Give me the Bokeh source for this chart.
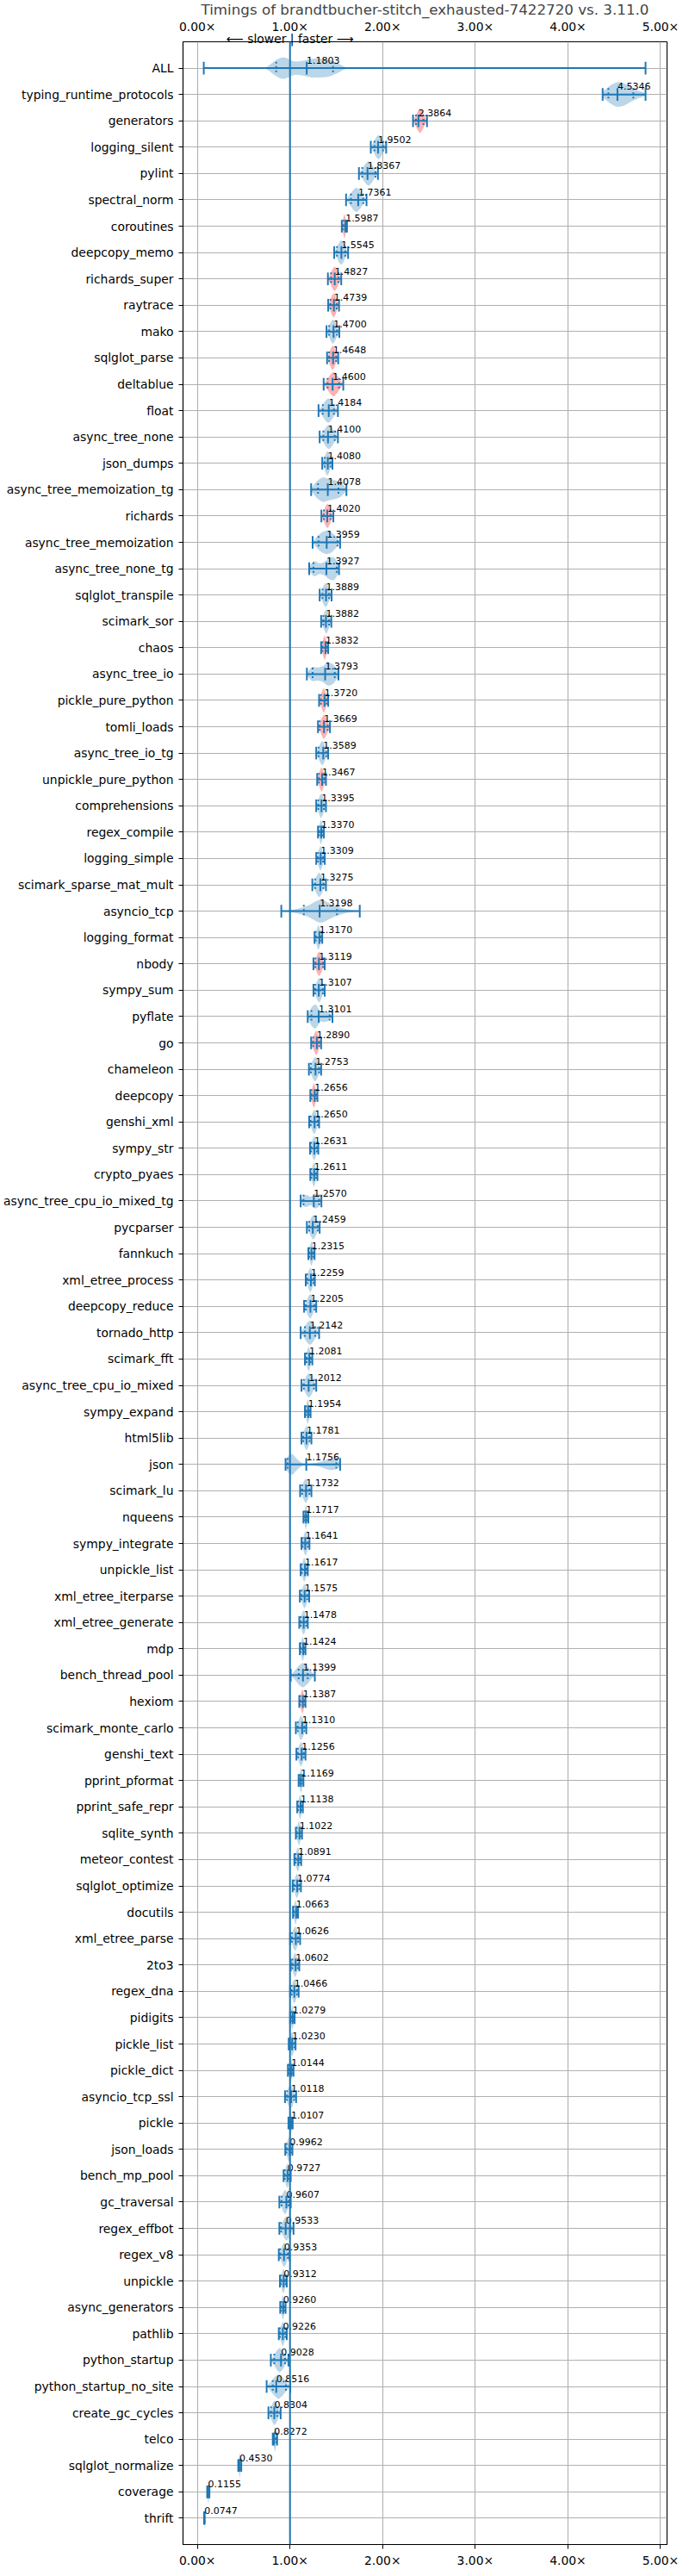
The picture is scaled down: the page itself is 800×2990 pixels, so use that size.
import numpy as np
from bokeh.core.properties import value
from bokeh.embed import file_html
from bokeh.models import ColumnDataSource, FixedTicker, LinearAxis, Range1d, Span
from bokeh.plotting import figure
from bokeh.resources import INLINE

title = "Timings of brandtbucher-stitch_exhausted-7422720 vs. 3.11.0"
direction_note = "⟵ slower | faster ⟶"

names = [
    "ALL", "typing_runtime_protocols", "generators", "logging_silent", "pylint",
    "spectral_norm", "coroutines", "deepcopy_memo", "richards_super", "raytrace",
    "mako", "sqlglot_parse", "deltablue", "float", "async_tree_none",
    "json_dumps", "async_tree_memoization_tg", "richards", "async_tree_memoization",
    "async_tree_none_tg", "sqlglot_transpile", "scimark_sor", "chaos",
    "async_tree_io", "pickle_pure_python", "tomli_loads", "async_tree_io_tg",
    "unpickle_pure_python", "comprehensions", "regex_compile", "logging_simple",
    "scimark_sparse_mat_mult", "asyncio_tcp", "logging_format", "nbody",
    "sympy_sum", "pyflate", "go", "chameleon", "deepcopy", "genshi_xml",
    "sympy_str", "crypto_pyaes", "async_tree_cpu_io_mixed_tg", "pycparser",
    "fannkuch", "xml_etree_process", "deepcopy_reduce", "tornado_http",
    "scimark_fft", "async_tree_cpu_io_mixed", "sympy_expand", "html5lib", "json",
    "scimark_lu", "nqueens", "sympy_integrate", "unpickle_list",
    "xml_etree_iterparse", "xml_etree_generate", "mdp", "bench_thread_pool",
    "hexiom", "scimark_monte_carlo", "genshi_text", "pprint_pformat",
    "pprint_safe_repr", "sqlite_synth", "meteor_contest", "sqlglot_optimize",
    "docutils", "xml_etree_parse", "2to3", "regex_dna", "pidigits", "pickle_list",
    "pickle_dict", "asyncio_tcp_ssl", "pickle", "json_loads", "bench_mp_pool",
    "gc_traversal", "regex_effbot", "regex_v8", "unpickle", "async_generators",
    "pathlib", "python_startup", "python_startup_no_site", "create_gc_cycles",
    "telco", "sqlglot_normalize", "coverage", "thrift",
]

medians = [
    1.1803, 4.5346, 2.3864, 1.9502, 1.8367, 1.7361, 1.5987, 1.5545, 1.4827, 1.4739,
    1.4700, 1.4648, 1.4600, 1.4184, 1.4100, 1.4080, 1.4078, 1.4020, 1.3959, 1.3927,
    1.3889, 1.3882, 1.3832, 1.3793, 1.3720, 1.3669, 1.3589, 1.3467, 1.3395, 1.3370,
    1.3309, 1.3275, 1.3198, 1.3170, 1.3119, 1.3107, 1.3101, 1.2890, 1.2753, 1.2656,
    1.2650, 1.2631, 1.2611, 1.2570, 1.2459, 1.2315, 1.2259, 1.2205, 1.2142, 1.2081,
    1.2012, 1.1954, 1.1781, 1.1756, 1.1732, 1.1717, 1.1641, 1.1617, 1.1575, 1.1478,
    1.1424, 1.1399, 1.1387, 1.1310, 1.1256, 1.1169, 1.1138, 1.1022, 1.0891, 1.0774,
    1.0663, 1.0626, 1.0602, 1.0466, 1.0279, 1.0230, 1.0144, 1.0118, 1.0107, 0.9962,
    0.9727, 0.9607, 0.9533, 0.9353, 0.9312, 0.9260, 0.9226, 0.9028, 0.8516, 0.8304,
    0.8272, 0.4530, 0.1155, 0.0747,
]

mins = [
    0.069, 4.375, 2.328, 1.872, 1.744, 1.605, 1.559, 1.477, 1.409, 1.412,
    1.394, 1.400, 1.363, 1.308, 1.320, 1.348, 1.228, 1.339, 1.244, 1.207,
    1.320, 1.336, 1.336, 1.182, 1.314, 1.302, 1.283, 1.293, 1.283, 1.302,
    1.283, 1.241, 0.906, 1.265, 1.253, 1.253, 1.191, 1.228, 1.204, 1.219,
    1.207, 1.216, 1.219, 1.115, 1.182, 1.198, 1.170, 1.152, 1.115, 1.161,
    1.124, 1.161, 1.124, 0.952, 1.109, 1.145, 1.124, 1.115, 1.106, 1.100,
    1.106, 1.008, 1.100, 1.063, 1.069, 1.093, 1.078, 1.063, 1.047, 1.029,
    1.032, 1.001, 1.008, 1.001, 1.001, 0.986, 0.977, 0.946, 0.983, 0.949,
    0.931, 0.885, 0.885, 0.879, 0.891, 0.894, 0.879, 0.793, 0.748, 0.767,
    0.814, 0.441, 0.106, 0.072,
]

maxs = [
    4.838, 4.838, 2.479, 2.038, 1.949, 1.826, 1.615, 1.627, 1.553, 1.529,
    1.532, 1.520, 1.575, 1.517, 1.517, 1.458, 1.609, 1.468, 1.541, 1.529,
    1.449, 1.446, 1.412, 1.523, 1.412, 1.431, 1.412, 1.388, 1.388, 1.366,
    1.375, 1.388, 1.753, 1.348, 1.375, 1.375, 1.458, 1.336, 1.336, 1.296,
    1.314, 1.305, 1.296, 1.339, 1.320, 1.265, 1.268, 1.283, 1.314, 1.241,
    1.283, 1.222, 1.231, 1.541, 1.231, 1.198, 1.210, 1.192, 1.207, 1.192,
    1.167, 1.268, 1.167, 1.176, 1.167, 1.145, 1.139, 1.130, 1.121, 1.118,
    1.087, 1.109, 1.100, 1.093, 1.050, 1.060, 1.038, 1.066, 1.029, 1.026,
    1.008, 1.008, 1.038, 0.995, 0.965, 0.952, 0.965, 0.983, 1.003, 0.899,
    0.861, 0.474, 0.130, 0.078,
]

q1s = [
    0.851, 4.437, 2.360, 1.912, 1.780, 1.658, 1.575, 1.507, 1.443, 1.437,
    1.422, 1.422, 1.406, 1.354, 1.360, 1.375, 1.302, 1.366, 1.308, 1.253,
    1.351, 1.360, 1.351, 1.244, 1.333, 1.320, 1.308, 1.311, 1.305, 1.314,
    1.302, 1.271, 1.149, 1.277, 1.274, 1.271, 1.231, 1.250, 1.225, 1.231,
    1.222, 1.228, 1.231, 1.146, 1.207, 1.207, 1.185, 1.170, 1.161, 1.179,
    1.149, 1.173, 1.143, 0.975, 1.130, 1.155, 1.136, 1.127, 1.124, 1.115,
    1.115, 1.093, 1.109, 1.084, 1.084, 1.100, 1.087, 1.072, 1.060, 1.044,
    1.041, 1.020, 1.026, 1.017, 1.011, 0.998, 0.986, 0.968, 0.992, 0.962,
    0.943, 0.909, 0.903, 0.894, 0.903, 0.903, 0.891, 0.830, 0.814, 0.795,
    0.825, 0.447, 0.110, 0.073,
]

q3s = [
    1.464, 4.706, 2.440, 2.004, 1.922, 1.790, 1.600, 1.596, 1.523, 1.504,
    1.507, 1.498, 1.529, 1.474, 1.483, 1.437, 1.523, 1.437, 1.513, 1.504,
    1.422, 1.422, 1.397, 1.483, 1.394, 1.406, 1.391, 1.369, 1.366, 1.354,
    1.357, 1.360, 1.507, 1.339, 1.357, 1.354, 1.428, 1.314, 1.314, 1.283,
    1.299, 1.290, 1.283, 1.314, 1.299, 1.253, 1.253, 1.265, 1.271, 1.222,
    1.259, 1.210, 1.210, 1.500, 1.210, 1.188, 1.192, 1.179, 1.185, 1.176,
    1.155, 1.191, 1.155, 1.155, 1.149, 1.136, 1.130, 1.118, 1.109, 1.100,
    1.078, 1.087, 1.084, 1.075, 1.041, 1.047, 1.029, 1.044, 1.020, 1.014,
    0.992, 0.983, 1.001, 0.977, 0.952, 0.943, 0.949, 0.946, 0.956, 0.861,
    0.850, 0.468, 0.125, 0.077,
]

red_rows = {
    "generators", "coroutines", "richards_super", "raytrace", "sqlglot_parse",
    "deltablue", "richards", "chaos", "pickle_pure_python", "tomli_loads",
    "unpickle_pure_python", "nbody", "go", "deepcopy", "hexiom",
}

# violin body extent where it differs from the whiskers
violin_span = {"ALL": (0.74, 1.61)}

# relative half-heights sampled evenly across each violin
default_profile = [0, 0.35, 0.75, 1.0, 0.75, 0.35, 0]
profiles = {
    "ALL": [0, 0.6, 0.95, 0.5, 0.55, 0.75, 0.75, 0.7, 0.4, 0],
    "typing_runtime_protocols": [0.2, 0.7, 1.0, 0.9, 0.55, 0.3, 0.1],
    "async_tree_memoization_tg": [0.1, 0.7, 1.0, 0.85, 0.75, 0.6, 0.1],
    "async_tree_memoization": [0, 0.5, 0.8, 0.95, 0.85, 0.5, 0],
    "async_tree_none_tg": [0.2, 0.65, 0.4, 0.5, 0.85, 0.95, 0.3],
    "async_tree_io": [0.1, 0.6, 0.5, 0.6, 0.95, 0.8, 0.2],
    "asyncio_tcp": [0, 0.12, 0.4, 1.0, 0.45, 0.12, 0],
    "pyflate": [0.1, 0.8, 1.0, 0.35, 0.45, 0.35, 0.05],
    "async_tree_cpu_io_mixed_tg": [0.05, 0.5, 0.45, 0.3, 0.6, 0.55, 0.1],
    "json": [0.3, 1.0, 0.45, 0.08, 0.05, 0.08, 0.15, 0.3, 0.45, 0.45, 0.2],
}

x_ticks = [0, 1, 2, 3, 4, 5]
x_tick_labels = ["0.00×", "1.00×", "2.00×", "3.00×", "4.00×", "5.00×"]

BLUE = "#1f77b4"
FONT = "DejaVu Sans"
rows = list(range(1, len(names) + 1))

p = figure(
    width=792, height=2982,
    x_range=Range1d(-0.155, 5.07), y_range=Range1d(len(names) + 1, 0),
    output_backend="svg", toolbar_location=None,
    x_axis_location=None, y_axis_location=None,
    min_border_left=206, min_border_right=18, min_border_top=20, min_border_bottom=26,
)
p.background_fill_color = "white"
p.outline_line_color = "black"
p.outline_line_width = 1.1

p.title.text = title
p.title.align = "center"
p.title.text_font = FONT
p.title.text_font_size = "16.7px"
p.title.text_font_style = "normal"
p.title.standoff = -3
p.title.offset = 0


def x_axis(ticks, labels):
    ax = LinearAxis(ticker=FixedTicker(ticks=ticks))
    ax.major_label_overrides = dict(zip(ticks, labels))
    ax.major_label_text_font = FONT
    ax.major_label_text_font_size = "13.9px"
    ax.major_label_text_color = "black"
    ax.minor_tick_line_color = None
    ax.major_tick_in = 0
    ax.axis_line_color = "black"
    ax.axis_line_width = 1.1
    return ax


bottom = x_axis(x_ticks, x_tick_labels)
bottom.major_tick_out = 5
bottom.major_label_standoff = 5
p.add_layout(bottom, "below")

# the "slower | faster" note sits between the frame and the top tick labels
note = x_axis([1], [direction_note])
note.major_tick_out = 0
note.major_label_standoff = -4
note.axis_line_color = None
p.add_layout(note, "above")

top = x_axis(x_ticks, x_tick_labels)
top.major_tick_out = 0
top.major_label_standoff = -5
top.axis_line_color = None
p.add_layout(top, "above")

left = LinearAxis(ticker=FixedTicker(ticks=rows))
left.major_label_overrides = dict(zip(rows, names))
left.major_label_text_font = FONT
left.major_label_text_font_size = "13.9px"
left.major_label_text_color = "black"
left.minor_tick_line_color = None
left.major_tick_in = 0
left.major_tick_out = 5
left.major_label_standoff = 6
left.axis_line_color = "black"
left.axis_line_width = 1.1
p.add_layout(left, "left")

p.xgrid.ticker = FixedTicker(ticks=x_ticks)
p.ygrid.ticker = FixedTicker(ticks=rows)
for g in (p.xgrid, p.ygrid):
    g.grid_line_color = "#b0b0b0"
    g.grid_line_width = 1.1

# violin bodies
HALF = 0.48
vxs, vys, vcols = [], [], []
for i, name in enumerate(names):
    lo, hi = violin_span.get(name, (mins[i], maxs[i]))
    prof = profiles.get(name, default_profile)
    grid = np.linspace(lo, hi, 80)
    h = np.interp(grid, np.linspace(lo, hi, len(prof)), prof)
    h = np.convolve(np.pad(h, 4, mode="edge"), np.ones(9) / 9, mode="valid")
    row = rows[i]
    vxs.append(list(grid) + list(grid[::-1]))
    vys.append(list(row - h * HALF) + list((row + h * HALF)[::-1]))
    vcols.append("red" if name in red_rows else BLUE)
p.patches(vxs, vys, fill_color=vcols, fill_alpha=0.3, line_color=None)

src = ColumnDataSource(dict(
    row=rows, med=medians, lo=mins, hi=maxs, q1=q1s, q3=q3s,
    top=[r - 0.24 for r in rows], bot=[r + 0.24 for r in rows],
    lab=["%.4f" % m for m in medians], ly=[r - 0.3 for r in rows],
))
p.segment(x0="lo", y0="row", x1="hi", y1="row", source=src, line_color=BLUE, line_width=2)
for col in ("lo", "hi", "med"):
    p.segment(x0=col, y0="top", x1=col, y1="bot", source=src, line_color=BLUE, line_width=2)
for col in ("q1", "q3"):
    p.segment(x0=col, y0="top", x1=col, y1="bot", source=src, line_color=BLUE,
              line_width=2, line_dash="2 3")

p.text(x="med", y="ly", text="lab", source=src, text_font=value(FONT),
       text_font_size="11px", text_color="black", text_baseline="alphabetic")

p.add_layout(Span(location=1.0, dimension="height", line_color=BLUE, line_width=2))

open("out.html", "w").write(file_html(p, INLINE))
